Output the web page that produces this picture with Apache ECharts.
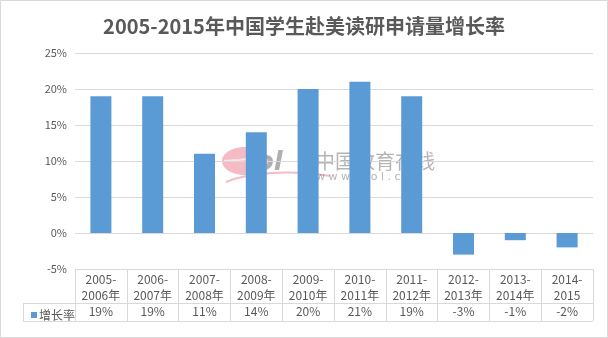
<!DOCTYPE html>
<html>
<head>
<meta charset="utf-8">
<script src="https://cdn.jsdelivr.net/npm/echarts@6/dist/echarts.min.js"></script>
<style>
  html, body { margin: 0; padding: 0; background: #fff; }
  #chart { width: 608px; height: 338px; }
</style>
</head>
<body>
<div id="chart"></div>
<script>
// Graduate application growth rate of Chinese students to the US, 2005-2015
const categories = ['2005-\n2006年', '2006-\n2007年', '2007-\n2008年', '2008-\n2009年', '2009-\n2010年',
                    '2010-\n2011年', '2011-\n2012年', '2012-\n2013年', '2013-\n2014年', '2014-\n2015'];
const growthRate = [19, 19, 11, 14, 20, 21, 19, -3, -1, -2];
const seriesName = '增长率';
const titleText = '2005-2015年中国学生赴美读研申请量增长率';
const yMin = -5, yMax = 25, yStep = 5;

const FONT = '"Noto Sans CJK SC", "Noto Sans", sans-serif';
const TEXT = '#595959';
const LINE = '#D9D9D9';
const BLUE = '#5B9BD5';

// plot rectangle (pixels)
const G = { left: 75, right: 15, top: 53, bottom: 69 };
const W = 608, H = 338;
const tableTop = H - G.bottom;          // top of category row
const rowSplit = tableTop + 34;          // between category row and value row
const tableBottom = rowSplit + 18;       // bottom of value row
const legendLeft = 23;

const PINK = 'rgba(236,120,140,0.5)';
const GREYMARK = 'rgba(110,110,110,0.55)';

const chart = echarts.init(document.getElementById('chart'), null, { renderer: 'canvas' });

chart.setOption({
  backgroundColor: '#fff',
  animation: false,
  textStyle: { fontFamily: FONT },
  title: {
    text: titleText,
    left: 'center',
    top: 11,
    textStyle: { fontSize: 20, fontWeight: 'bold', color: TEXT, fontFamily: FONT }
  },
  legend: {
    data: [seriesName],
    left: legendLeft + 3,
    top: rowSplit + 1,
    icon: 'rect',
    itemWidth: 6,
    itemHeight: 6,
    itemGap: 2,
    textStyle: { fontSize: 12, color: TEXT, fontFamily: FONT, padding: [0, 0, 0, -3] }
  },
  grid: { left: G.left, right: G.right, top: G.top, bottom: G.bottom, containLabel: false },
  xAxis: [
    {
      type: 'category',
      data: categories,
      position: 'bottom',
      axisLine: { onZero: false, lineStyle: { color: LINE, width: 1 } },
      axisTick: { show: true, length: tableBottom - tableTop, lineStyle: { color: LINE } },
      axisLabel: { color: TEXT, fontSize: 12, lineHeight: 16, margin: 2, interval: 0, fontFamily: FONT }
    },
    {
      type: 'category',
      data: growthRate.map(v => v + '%'),
      position: 'bottom',
      offset: rowSplit - tableTop,
      axisLine: { show: false },
      axisTick: { show: false },
      axisLabel: { color: TEXT, fontSize: 12, margin: 2, interval: 0, fontFamily: FONT }
    }
  ],
  yAxis: {
    type: 'value',
    min: yMin,
    max: yMax,
    interval: yStep,
    axisLine: { show: false },
    axisTick: { show: false },
    axisLabel: { formatter: '{value}%', color: TEXT, fontSize: 11, margin: 8, fontFamily: FONT },
    splitLine: { lineStyle: { color: LINE, width: 1 } }
  },
  series: [{
    name: seriesName,
    type: 'bar',
    xAxisIndex: 0,
    data: growthRate,
    barWidth: 21,
    itemStyle: { color: BLUE }
  }],
  graphic: {
    z: 100,
    elements: [
      // outer frame
      { type: 'rect', shape: { x: 0.5, y: 0.5, width: W - 1, height: H - 1 },
        style: { fill: 'none', stroke: LINE, lineWidth: 1 }, silent: true },
      // data table rules
      { type: 'line', shape: { x1: legendLeft, y1: rowSplit + 0.5, x2: W - G.right, y2: rowSplit + 0.5 },
        style: { stroke: LINE, lineWidth: 1 }, silent: true },
      { type: 'line', shape: { x1: legendLeft, y1: tableBottom + 0.5, x2: W - G.right, y2: tableBottom + 0.5 },
        style: { stroke: LINE, lineWidth: 1 }, silent: true },
      { type: 'line', shape: { x1: legendLeft + 0.5, y1: rowSplit, x2: legendLeft + 0.5, y2: tableBottom },
        style: { stroke: LINE, lineWidth: 1 }, silent: true },
      // site watermark, above the bars
      { type: 'ellipse', silent: true, shape: { cx: 245, cy: 161, rx: 23, ry: 14 },
        style: { fill: PINK } },
      { type: 'line', silent: true, shape: { x1: 224, y1: 161, x2: 262, y2: 158 },
        style: { stroke: 'rgba(255,255,255,0.6)', lineWidth: 2 } },
      { type: 'text', silent: true,
        style: { x: 256, y: 150, text: 'ol', fontSize: 26, fontWeight: 'bold', fontStyle: 'italic',
                 fontFamily: 'DejaVu Sans', fill: GREYMARK } },
      { type: 'bezierCurve', silent: true,
        shape: { x1: 226, y1: 182, cpx1: 250, cpy1: 172, cpx2: 290, cpy2: 170, x2: 330, y2: 176 },
        style: { stroke: PINK, lineWidth: 2, fill: 'none' } },
      { type: 'text', silent: true,
        style: { x: 315, y: 151, text: '中国教育在线', fontSize: 20,
                 fontFamily: FONT, fill: 'rgba(130,130,130,0.6)' } },
      { type: 'text', silent: true,
        style: { x: 316, y: 172, text: 'w w w . e o l . c n', fontSize: 11,
                 fontFamily: 'DejaVu Sans', fill: 'rgba(130,130,130,0.6)' } }
    ]
  }
});
</script>
</body>
</html>
